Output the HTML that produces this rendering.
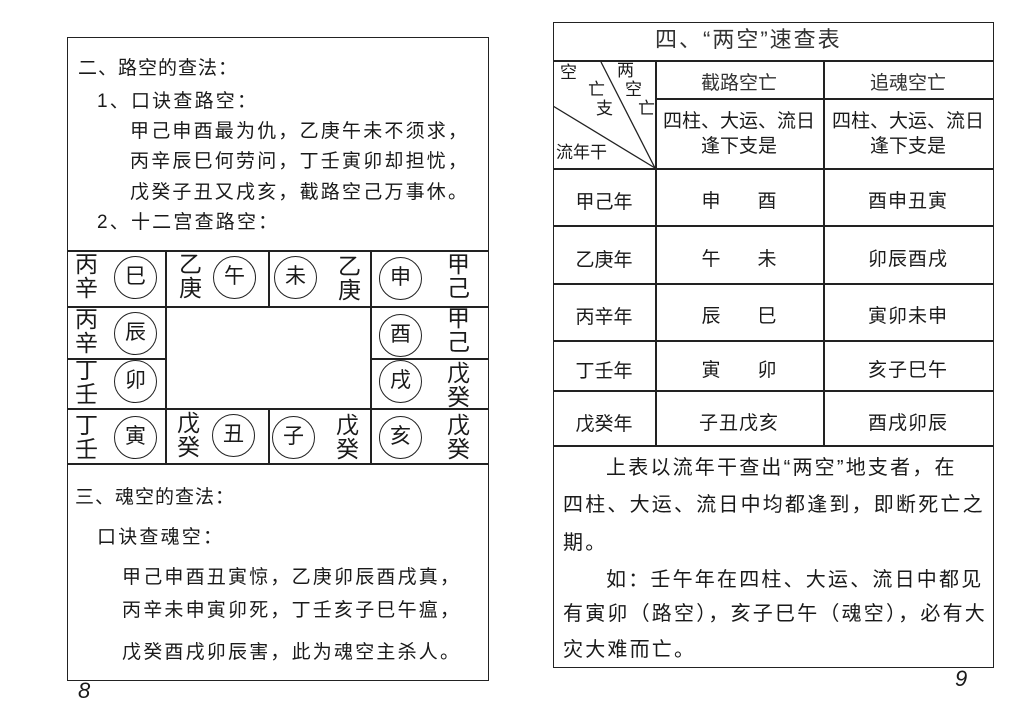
<!DOCTYPE html><html><head><meta charset="utf-8"><style>
body{margin:0;width:1024px;height:724px;background:#fff;position:relative;overflow:hidden;font-family:"Liberation Sans","Noto Sans CJK SC",sans-serif;color:#1a1a1a}
.a{position:absolute;white-space:nowrap;line-height:1}
.b{position:absolute;border:1.5px solid #222;box-sizing:border-box}
.l{position:absolute;background:#222}
.c{position:absolute;width:43px;height:43px;border:1.5px solid #222;border-radius:50%;box-sizing:border-box;font-size:21px;text-align:center;line-height:40px}
.v{position:absolute;font-size:23px;line-height:24px;width:25px;text-align:center}
.t{font-size:19px;letter-spacing:2.2px}
.r{font-size:20px;letter-spacing:2.2px}
.cc{position:absolute;text-align:center;font-size:19px}
</style></head><body>
<div class="b" style="left:67px;top:37px;width:422px;height:644px"></div>
<div class="a t" style="left:78px;top:59px;letter-spacing:1px">二、路空的查法：</div>
<div class="a t" style="left:97px;top:92px">1、口诀查路空：</div>
<div class="a t" style="left:130px;top:122px">甲己申酉最为仇，乙庚午未不须求，</div>
<div class="a t" style="left:130px;top:152px">丙辛辰巳何劳问，丁壬寅卯却担忧，</div>
<div class="a t" style="left:130px;top:183px">戊癸子丑又戌亥，截路空己万事休。</div>
<div class="a t" style="left:97px;top:213px">2、十二宫查路空：</div>
<div class="l" style="left:67px;top:250px;width:422px;height:1.5px"></div>
<div class="l" style="left:67px;top:463px;width:422px;height:1.5px"></div>
<div class="l" style="left:67px;top:306px;width:98px;height:1.5px"></div>
<div class="l" style="left:370px;top:306px;width:119px;height:1.5px"></div>
<div class="l" style="left:67px;top:358px;width:98px;height:1.5px"></div>
<div class="l" style="left:370px;top:358px;width:119px;height:1.5px"></div>
<div class="l" style="left:165px;top:306px;width:205px;height:1.5px"></div>
<div class="l" style="left:165px;top:408px;width:205px;height:1.5px"></div>
<div class="l" style="left:67px;top:408px;width:98px;height:1.5px"></div>
<div class="l" style="left:370px;top:408px;width:119px;height:1.5px"></div>
<div class="l" style="left:165px;top:250px;width:1.5px;height:213px"></div>
<div class="l" style="left:370px;top:250px;width:1.5px;height:213px"></div>
<div class="l" style="left:268px;top:250px;width:1.5px;height:56px"></div>
<div class="l" style="left:268px;top:408px;width:1.5px;height:55px"></div>
<div class="v" style="left:74px;top:252px">丙<br>辛</div><div class="c" style="left:114px;top:256px">巳</div>
<div class="v" style="left:178px;top:252px">乙<br>庚</div><div class="c" style="left:213px;top:256px">午</div>
<div class="c" style="left:274px;top:256px">未</div><div class="v" style="left:337px;top:254px">乙<br>庚</div>
<div class="c" style="left:379px;top:257px">申</div><div class="v" style="left:446px;top:252px">甲<br>己</div>
<div class="v" style="left:74px;top:307px">丙<br>辛</div><div class="c" style="left:114px;top:312px">辰</div>
<div class="c" style="left:379px;top:314px">酉</div><div class="v" style="left:446px;top:306px">甲<br>己</div>
<div class="v" style="left:74px;top:358px">丁<br>壬</div><div class="c" style="left:114px;top:360px">卯</div>
<div class="c" style="left:379px;top:360px">戌</div><div class="v" style="left:446px;top:361px">戊<br>癸</div>
<div class="v" style="left:74px;top:413px">丁<br>壬</div><div class="c" style="left:114px;top:416px">寅</div>
<div class="v" style="left:176px;top:411px">戊<br>癸</div><div class="c" style="left:212px;top:414px">丑</div>
<div class="c" style="left:272px;top:416px">子</div><div class="v" style="left:335px;top:413px">戊<br>癸</div>
<div class="c" style="left:379px;top:416px">亥</div><div class="v" style="left:446px;top:413px">戊<br>癸</div>
<div class="a t" style="left:75px;top:488px;letter-spacing:1px">三、魂空的查法：</div>
<div class="a t" style="left:97px;top:528px">口诀查魂空：</div>
<div class="a t" style="left:122px;top:568px">甲己申酉丑寅惊，乙庚卯辰酉戌真，</div>
<div class="a t" style="left:122px;top:601px">丙辛未申寅卯死，丁壬亥子巳午瘟，</div>
<div class="a t" style="left:122px;top:643px">戊癸酉戌卯辰害，此为魂空主杀人。</div>
<div class="a" style="left:78px;top:680px;font-size:22px;font-style:italic">8</div>
<div class="b" style="left:553px;top:22px;width:441px;height:646px"></div>
<div class="a" style="left:655px;top:29px;font-size:22px;letter-spacing:2px;color:#333">四、“两空”速查表</div>
<div class="l" style="left:553px;top:60px;width:441px;height:1.5px"></div>
<div class="l" style="left:655px;top:98px;width:339px;height:1.5px"></div>
<div class="l" style="left:553px;top:168px;width:441px;height:1.5px"></div>
<div class="l" style="left:553px;top:225px;width:441px;height:1.5px"></div>
<div class="l" style="left:553px;top:283px;width:441px;height:1.5px"></div>
<div class="l" style="left:553px;top:340px;width:441px;height:1.5px"></div>
<div class="l" style="left:553px;top:390px;width:441px;height:1.5px"></div>
<div class="l" style="left:553px;top:445px;width:441px;height:1.5px"></div>
<div class="l" style="left:655px;top:60px;width:1.5px;height:385px"></div>
<div class="l" style="left:823px;top:60px;width:1.5px;height:385px"></div>
<svg style="position:absolute;left:553px;top:60px" width="103" height="109"><line x1="48" y1="2" x2="102" y2="108" stroke="#222" stroke-width="1.3"/><line x1="0" y1="46" x2="102" y2="108" stroke="#222" stroke-width="1.3"/></svg>
<div class="a" style="left:560px;top:64px;font-size:17px">空</div>
<div class="a" style="left:617px;top:62px;font-size:17px">两</div>
<div class="a" style="left:588px;top:81px;font-size:17px">亡</div>
<div class="a" style="left:625px;top:81px;font-size:17px">空</div>
<div class="a" style="left:596px;top:100px;font-size:17px">支</div>
<div class="a" style="left:638px;top:100px;font-size:17px">亡</div>
<div class="a" style="left:556px;top:144px;font-size:17px">流年干</div>
<div class="cc" style="left:655px;top:68px;width:168px;color:#333">截路空亡</div>
<div class="cc" style="left:823px;top:68px;width:170px;color:#333">追魂空亡</div>
<div class="cc" style="left:655px;top:109px;width:168px;line-height:25px;font-size:19px">四柱、大运、流日<br>逢下支是</div>
<div class="cc" style="left:823px;top:109px;width:170px;line-height:25px;font-size:19px">四柱、大运、流日<br>逢下支是</div>
<div class="cc" style="left:553px;top:187px;width:102px">甲己年</div>
<div class="cc" style="left:655px;top:186px;width:168px">申&nbsp;&nbsp;&nbsp;&nbsp;&nbsp;&nbsp;&nbsp;酉</div>
<div class="cc" style="left:823px;top:186px;width:170px;letter-spacing:1px">酉申丑寅</div>
<div class="cc" style="left:553px;top:245px;width:102px">乙庚年</div>
<div class="cc" style="left:655px;top:244px;width:168px">午&nbsp;&nbsp;&nbsp;&nbsp;&nbsp;&nbsp;&nbsp;未</div>
<div class="cc" style="left:823px;top:244px;width:170px;letter-spacing:1px">卯辰酉戌</div>
<div class="cc" style="left:553px;top:302px;width:102px">丙辛年</div>
<div class="cc" style="left:655px;top:301px;width:168px">辰&nbsp;&nbsp;&nbsp;&nbsp;&nbsp;&nbsp;&nbsp;巳</div>
<div class="cc" style="left:823px;top:301px;width:170px;letter-spacing:1px">寅卯未申</div>
<div class="cc" style="left:553px;top:356px;width:102px">丁壬年</div>
<div class="cc" style="left:655px;top:355px;width:168px">寅&nbsp;&nbsp;&nbsp;&nbsp;&nbsp;&nbsp;&nbsp;卯</div>
<div class="cc" style="left:823px;top:355px;width:170px;letter-spacing:1px">亥子巳午</div>
<div class="cc" style="left:553px;top:409px;width:102px">戊癸年</div>
<div class="cc" style="left:655px;top:408px;width:168px;letter-spacing:1px">子丑戊亥</div>
<div class="cc" style="left:823px;top:408px;width:170px;letter-spacing:1px">酉戌卯辰</div>
<div class="a r" style="left:606px;top:458px">上表以流年干查出“两空”地支者，在</div>
<div class="a r" style="left:563px;top:495px">四柱、大运、流日中均都逢到，即断死亡之</div>
<div class="a r" style="left:563px;top:533px">期。</div>
<div class="a r" style="left:606px;top:570px">如：壬午年在四柱、大运、流日中都见</div>
<div class="a r" style="left:563px;top:604px">有寅卯（路空），亥子巳午（魂空），必有大</div>
<div class="a r" style="left:563px;top:640px">灾大难而亡。</div>
<div class="a" style="left:955px;top:668px;font-size:22px;font-style:italic">9</div>
</body></html>
